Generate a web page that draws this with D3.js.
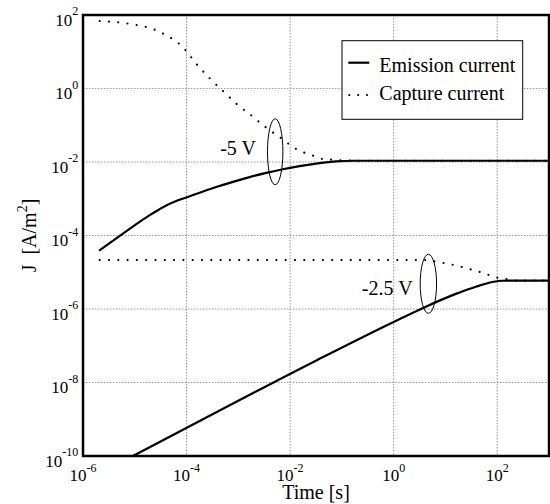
<!DOCTYPE html>
<html>
<head>
<meta charset="utf-8">
<script src="https://cdn.jsdelivr.net/npm/d3@7"></script>
<style>
  html, body { margin: 0; padding: 0; background: #fff; }
  svg { display: block; }
</style>
</head>
<body>
<svg id="chart" width="550" height="504"></svg>
<script>
// Axis ticks (decades) and their exponent labels
const timeTicks = [1e-6, 1e-4, 1e-2, 1e0, 1e2];
const timeTickExponents = ["-6", "-4", "-2", "0", "2"];
const currentTicks = [1e2, 1e0, 1e-2, 1e-4, 1e-6, 1e-8, 1e-10];
const currentTickExponents = ["2", "0", "-2", "-4", "-6", "-8", "-10"];

// Emission current at -5 V
const emission5Time = [2.04e-6, 5.9e-6, 1.07e-5, 1.94e-5, 3.5e-5, 6.3e-5, 9.9e-5, 1.79e-4, 3.74e-4,
  7.9e-4, 1.65e-3, 3.46e-3, 7.26e-3, 1.52e-2, 3.15e-2, 4.9e-2, 7.7e-2, 0.16, 1e3];
const emission5Current = [3.86e-5, 1.12e-4, 2.03e-4, 3.57e-4, 5.90e-4, 8.67e-4, 1.08e-3, 1.46e-3, 2.08e-3,
  2.88e-3, 3.88e-3, 5.07e-3, 6.34e-3, 7.69e-3, 9.02e-3, 9.77e-3, 1.035e-2, 1.08e-2, 1.08e-2];

// Capture current at -5 V
const capture5Time = [2.1e-6, 4.74e-6, 1.07e-5, 2.42e-5, 5.07e-5, 7.13e-5, 9.6e-5, 1.61e-4, 2.79e-4,
  5.05e-4, 9.4e-4, 1.81e-3, 3.46e-3, 6.73e-3, 1.31e-2, 2.87e-2, 4.24e-2, 6.14e-2, 0.126, 0.316, 1e3];
const capture5Current = [68.7, 63.2, 53.5, 39.8, 23.2, 16.6, 10.9, 4.36, 1.90,
  0.855, 0.372, 0.182, 0.0857, 0.0442, 0.0226, 0.0146, 0.0121, 0.0116, 0.0109, 0.0108, 0.0108];

// Emission current at -2.5 V
const emission25Time = [2.04e-6, 1.0e-5, 3.15e-2, 1.02, 4.19, 15.9, 38.6, 81.1, 126, 200, 1e3];
const emission25Current = [3.3e-11, 1.06e-10, 3.93e-8, 4.52e-7, 1.16e-6, 2.58e-6, 4.03e-6, 5.42e-6, 5.87e-6, 5.9e-6, 5.9e-6];

// Capture current at -2.5 V
const capture25Time = [2.1e-6, 1e-3, 1.0, 4.19, 6.53, 9.86, 14.7, 22.0, 32.4, 48.2, 71.9, 107, 162, 251, 1e3];
const capture25Current = [2.15e-5, 2.15e-5, 2.15e-5, 2.15e-5, 1.94e-5, 1.75e-5, 1.57e-5, 1.36e-5,
  1.17e-5, 1.0e-5, 8.26e-6, 6.98e-6, 6.46e-6, 5.9e-6, 5.9e-6];

// Bias annotations: ellipse centres and label anchors (data coordinates)
const biasLabels = ["-5 V", "-2.5 V"];
const biasEllipseTime = [5.15e-3, 4.68];
const biasEllipseCurrent = [1.9e-2, 4.85e-6];
const biasLabelTime = [2.19e-3, 2.32];
const biasLabelCurrent = [1.55e-2, 2.4e-6];

const legendLabels = ["Emission current", "Capture current"];

// ---- layout ----
const plot = { left: 83, right: 549, top: 15, bottom: 456 };
const ellipseRadii = [[7.7, 33], [8.2, 29.5]];
const FONT = "Liberation Serif";

const svg = d3.select("#chart")
  .attr("font-family", FONT);

const x = d3.scaleLog().domain([1e-6, 1e3]).range([plot.left, plot.right]);
const y = d3.scaleLog().domain([1e-10, 1e2]).range([plot.bottom, plot.top]);

svg.append("defs").append("clipPath").attr("id", "plot-clip")
  .append("rect")
  .attr("x", plot.left).attr("y", plot.top)
  .attr("width", plot.right - plot.left).attr("height", plot.bottom - plot.top);

// Grid lines
const grid = svg.append("g").attr("stroke", "#8a8a8a").attr("stroke-width", 0.9)
  .attr("stroke-dasharray", "1.5 1.5");
grid.selectAll("line.vx").data(timeTicks.slice(1)).join("line")
  .attr("x1", d => x(d)).attr("x2", d => x(d))
  .attr("y1", plot.top).attr("y2", plot.bottom);
grid.selectAll("line.hy").data(currentTicks.slice(1, -1)).join("line")
  .attr("x1", plot.left).attr("x2", plot.right)
  .attr("y1", d => y(d)).attr("y2", d => y(d));

// Curves
const line = d3.line().x(d => x(d[0])).y(d => y(d[1])).curve(d3.curveMonotoneX);
const pairs = (t, j) => t.map((v, i) => [v, j[i]]);

const curves = svg.append("g").attr("clip-path", "url(#plot-clip)").attr("fill", "none");

[[emission5Time, emission5Current], [emission25Time, emission25Current]].forEach(([t, j]) => {
  curves.append("path").attr("d", line(pairs(t, j)))
    .attr("stroke", "#000").attr("stroke-width", 2.2).attr("stroke-linejoin", "round");
});
[[capture5Time, capture5Current], [capture25Time, capture25Current]].forEach(([t, j]) => {
  curves.append("path").attr("d", line(pairs(t, j)))
    .attr("stroke", "#000").attr("stroke-width", 2.2)
    .attr("stroke-linecap", "round").attr("stroke-dasharray", "0 9.3");
});

// Bias annotations
biasLabels.forEach((lab, i) => {
  svg.append("ellipse")
    .attr("cx", x(biasEllipseTime[i])).attr("cy", y(biasEllipseCurrent[i]))
    .attr("rx", ellipseRadii[i][0]).attr("ry", ellipseRadii[i][1])
    .attr("fill", "none").attr("stroke", "#000").attr("stroke-width", 1);
  svg.append("text")
    .attr("font-family", FONT)
    .attr("x", x(biasLabelTime[i])).attr("y", y(biasLabelCurrent[i]))
    .attr("text-anchor", "end").attr("font-size", 20)
    .text(lab);
});

// Plot frame
svg.append("rect")
  .attr("x", plot.left).attr("y", plot.top)
  .attr("width", plot.right - plot.left).attr("height", plot.bottom - plot.top)
  .attr("fill", "none").attr("stroke", "#000").attr("stroke-width", 2.5);

// X tick labels
const xLabels = svg.append("g");
timeTicks.forEach((t, i) => {
  const txt = xLabels.append("text")
    .attr("font-family", FONT)
    .attr("x", x(t)).attr("y", plot.bottom + 25)
    .attr("text-anchor", "middle").attr("font-size", 17);
  txt.append("tspan").text("10");
  txt.append("tspan").attr("dy", -9.5).attr("font-size", 12).text(timeTickExponents[i]);
});

// Y tick labels
const yLabels = svg.append("g");
currentTicks.forEach((v, i) => {
  const txt = yLabels.append("text")
    .attr("font-family", FONT)
    .attr("x", plot.left - 4.7).attr("y", y(v) + 10.8)
    .attr("text-anchor", "end").attr("font-size", 17);
  txt.append("tspan").text("10");
  txt.append("tspan").attr("dy", -10.5).attr("font-size", 12).text(currentTickExponents[i]);
});

// Axis titles
svg.append("text")
  .attr("font-family", FONT)
  .attr("x", (plot.left + plot.right) / 2).attr("y", 499)
  .attr("text-anchor", "middle").attr("font-size", 20)
  .text("Time [s]");

const yTitle = svg.append("text")
  .attr("font-family", FONT)
  .attr("transform", `translate(36,${(plot.top + plot.bottom) / 2}) rotate(-90)`)
  .attr("text-anchor", "middle").attr("font-size", 20)
  .style("white-space", "pre");
yTitle.append("tspan").text("J  [A/m");
yTitle.append("tspan").attr("dy", -9).attr("font-size", 14).text("2");
yTitle.append("tspan").attr("dy", 9).text("]");

// Legend
const legend = svg.append("g");
legend.append("rect")
  .attr("x", 342).attr("y", 40.7).attr("width", 180.7).attr("height", 78.6)
  .attr("fill", "#fff").attr("stroke", "#000").attr("stroke-width", 1);
legend.append("line")
  .attr("x1", 348.3).attr("x2", 369.3).attr("y1", 62.7).attr("y2", 62.7)
  .attr("stroke", "#000").attr("stroke-width", 2.2);
legend.append("line")
  .attr("x1", 349.3).attr("x2", 368).attr("y1", 95).attr("y2", 95)
  .attr("stroke", "#000").attr("stroke-width", 2.2)
  .attr("stroke-linecap", "round").attr("stroke-dasharray", "0 8.85");
legend.selectAll("text.entry").data(legendLabels).join("text")
  .attr("font-family", FONT)
  .attr("x", 379.3).attr("y", (d, i) => i === 0 ? 71.7 : 100)
  .attr("font-size", 20)
  .text(d => d);
</script>
</body>
</html>
